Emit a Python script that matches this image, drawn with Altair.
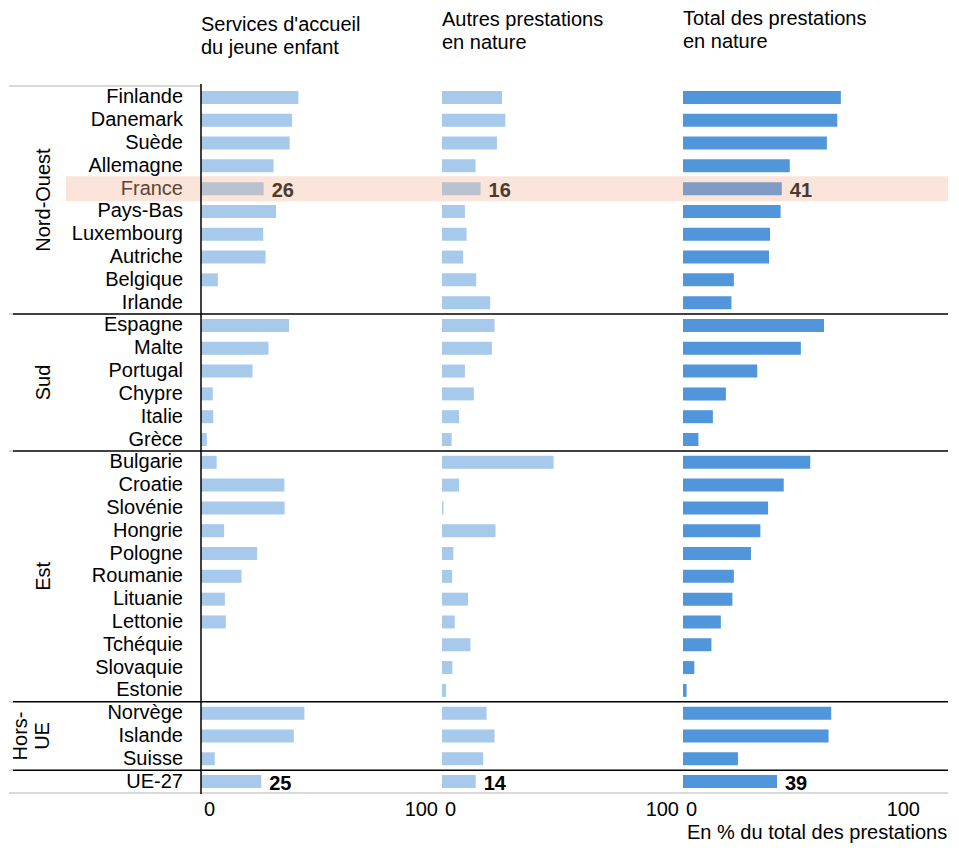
import altair as alt
import pandas as pd

countries = ["Finlande", "Danemark", "Suède", "Allemagne", "France", "Pays-Bas",
             "Luxembourg", "Autriche", "Belgique", "Irlande",
             "Espagne", "Malte", "Portugal", "Chypre", "Italie", "Grèce",
             "Bulgarie", "Croatie", "Slovénie", "Hongrie", "Pologne", "Roumanie",
             "Lituanie", "Lettonie", "Tchéquie", "Slovaquie", "Estonie",
             "Norvège", "Islande", "Suisse", "UE-27"]
regions = (["Nord-Ouest"] * 10 + ["Sud"] * 6 + ["Est"] * 11 + ["Hors-UE"] * 3 + [""])
region_labels = {"Nord-Ouest": "Nord-Ouest", "Sud": "Sud", "Est": "Est",
                 "Hors-UE": "Hors-\nUE", "": ""}

services = [40.4, 37.8, 36.8, 30.1, 26, 31.1, 25.8, 26.8, 7.0, None,
            36.5, 28.0, 21.4, 4.9, 5.1, 2.4,
            6.5, 34.6, 34.7, 9.6, 23.3, 16.8, 9.9, 10.3, None, None, None,
            42.9, 38.5, 5.7, 25]
autres = [24.9, 26.3, 22.8, 13.9, 16, 9.5, 10.2, 8.8, 14.2, 20.0,
          21.8, 20.7, 9.5, 13.2, 7.1, 4.0,
          46.3, 7.1, 0.6, 22.2, 4.7, 4.2, 10.8, 5.3, 11.8, 4.3, 1.7,
          18.5, 21.8, 17.1, 14]
total = [65.5, 64.0, 59.7, 44.3, 41, 40.5, 36.1, 35.7, 21.1, 20.1,
         58.5, 48.9, 30.8, 17.8, 12.4, 6.4,
         52.8, 41.8, 35.3, 32.1, 28.2, 21.1, 20.5, 15.7, 11.8, 4.7, 1.5,
         61.5, 60.4, 22.8, 39]

tick_values = [0, 100]
panel_titles = [["Services d'accueil", "du jeune enfant"],
                ["Autres prestations", "en nature"],
                ["Total des prestations", "en nature"]]
x_note = "En % du total des prestations"
highlight_country = "France"
total_country = "UE-27"

labels_list = [region_labels[r] for r in regions]
df = pd.DataFrame({
    "country": countries,
    "region": regions,
    "region_label": labels_list,
    "lines": [lab.count("\n") + 1 for lab in labels_list],
    "order": list(range(len(countries))),
    "services": services,
    "autres": autres,
    "total": total,
})
ticks_df = pd.DataFrame({"v": tick_values})
note_df = pd.DataFrame({"note": [x_note]})

FONT = "Liberation Sans"
LIGHT = "#A6C9EC"
DARK = "#5196DA"
PEACH = "#FBE4D9"
BROWN = "#4B3A2F"
W = 241
H = 707
XS = alt.Scale(domain=[0, 100], nice=False)


def y_enc(bp=None):
    kw = dict(scale=alt.Scale(domain=countries, paddingInner=0, paddingOuter=0), axis=None)
    if bp is not None:
        kw["bandPosition"] = bp
    return alt.Y("country:N", **kw)


def panel(i, field, color, fcolor, left, right, title_dy, first=False, last=False):
    base = alt.Chart(df)
    grouped = base.transform_window(
        idx="row_number()", groupby=["region"], sort=[alt.SortField("order")]
    ).transform_joinaggregate(n="count()", groupby=["region"])

    highlight = base.mark_bar(height=25, color=PEACH).encode(
        y=y_enc(), x=alt.value(left), x2=alt.value(right)
    ).transform_filter(f"datum.country == '{highlight_country}'")

    bottom = base.mark_rule(strokeWidth=2, color="#D9D9D9").encode(
        y=y_enc(1), x=alt.value(-192 if first else 0), x2=alt.value(right if last else W)
    ).transform_filter(f"datum.order == {len(countries) - 1}")

    bars = base.mark_bar(height=13).encode(
        x=alt.X(f"{field}:Q", scale=XS, axis=None),
        y=y_enc(),
        color=alt.condition(alt.datum.country == highlight_country, alt.value(fcolor), alt.value(color)),
    )

    seps = grouped.mark_rule(strokeWidth=1.5, color="black").encode(
        y=y_enc(0), x=alt.value(-188 if first else 0), x2=alt.value(right if last else W)
    ).transform_filter("datum.idx == 1 && datum.order > 0")

    values = base.mark_text(align="left", baseline="middle", dx=8, dy=2, fontSize=20,
                            fontWeight="bold").encode(
        x=alt.X(f"{field}:Q", scale=XS, axis=None),
        y=y_enc(),
        text=alt.Text(f"{field}:Q", format=".0f"),
        color=alt.condition(alt.datum.country == highlight_country, alt.value(BROWN), alt.value("black")),
    ).transform_filter(f"datum.country == '{highlight_country}' || datum.country == '{total_country}'")

    tick_left = alt.Chart(ticks_df).mark_text(align="left", baseline="top", fontSize=20, dx=3,
                                              color="black").encode(
        x=alt.X("v:Q", scale=XS, axis=None), y=alt.value(H + 7), text="v:Q"
    ).transform_filter("datum.v == 0")
    tick_right = alt.Chart(ticks_df).mark_text(align="right", baseline="top", fontSize=20, dx=-4,
                                               color="black").encode(
        x=alt.X("v:Q", scale=XS, axis=None), y=alt.value(H + 7), text="v:Q"
    ).transform_filter("datum.v > 0")

    layers = [highlight, bottom, bars, seps, values, tick_left, tick_right]

    if last:
        note = alt.Chart(note_df).mark_text(align="left", baseline="top", fontSize=20,
                                            color="black").encode(
            x=alt.value(4), y=alt.value(H + 30), text="note:N"
        )
        layers.append(note)

    if first:
        top_line = base.mark_rule(strokeWidth=2, color="#D9D9D9").encode(
            y=y_enc(0), x=alt.value(-192), x2=alt.value(0)
        ).transform_filter("datum.order == 0")
        gray_bits = grouped.mark_rule(strokeWidth=2, color="#D9D9D9").encode(
            y=y_enc(0), x=alt.value(-192), x2=alt.value(-188)
        ).transform_filter("datum.idx == 1 && datum.order > 0")
        axis_line = base.mark_rule(strokeWidth=1.5, color="black").encode(
            x=alt.value(0), y=alt.value(-2), y2=alt.value(H + 1)
        ).transform_filter("datum.order == 0")
        country_labels = base.mark_text(align="right", baseline="middle", fontSize=20).encode(
            y=y_enc(), x=alt.value(-18), text="country:N",
            color=alt.condition(alt.datum.country == highlight_country,
                                alt.value("#5A4638"), alt.value("black")),
        )

        def region_layer(bp, test, xpos):
            return grouped.mark_text(angle=270, baseline="bottom", align="center", fontSize=20,
                                     lineBreak="\n", color="black").encode(
                y=y_enc(bp), x=alt.value(xpos), text="region_label:N"
            ).transform_filter("datum.region != '' && " + test)

        even_test = "datum.n % 2 == 0 && datum.idx == datum.n / 2 + 1"
        odd_test = "datum.n % 2 == 1 && datum.idx == (datum.n + 1) / 2"
        rl = [
            region_layer(0, even_test + " && datum.lines == 1", -147),
            region_layer(0.5, odd_test + " && datum.lines == 1", -147),
            region_layer(0, even_test + " && datum.lines == 2", -170),
            region_layer(0.5, odd_test + " && datum.lines == 2", -170),
        ]
        layers = ([highlight, top_line, bottom, gray_bits, bars, seps, axis_line, values,
                   country_labels, tick_left, tick_right] + rl)

    return alt.layer(*layers).properties(
        width=W, height=H,
        title=alt.TitleParams(text=panel_titles[i], anchor="start", frame="group", fontSize=20,
                              fontWeight="normal", lineHeight=23, offset=34, dy=title_dy,
                              color="black", font=FONT),
    )


p1 = panel(0, "services", LIGHT, "#BAC1CF", -135, W, 9, first=True)
p2 = panel(1, "autres", LIGHT, "#BAC1CF", 0, W, 1)
p3 = panel(2, "total", DARK, "#7F9DC4", 0, 265, 0, last=True)

chart = alt.hconcat(p1, p2, p3, spacing=0, bounds="flush").properties(
    padding={"left": 0, "top": 1, "right": 0, "bottom": 0}
).configure_view(stroke=None).configure_text(font=FONT).configure_title(font=FONT)

chart.save("out.html", embed_options={"renderer": "svg", "actions": False})
